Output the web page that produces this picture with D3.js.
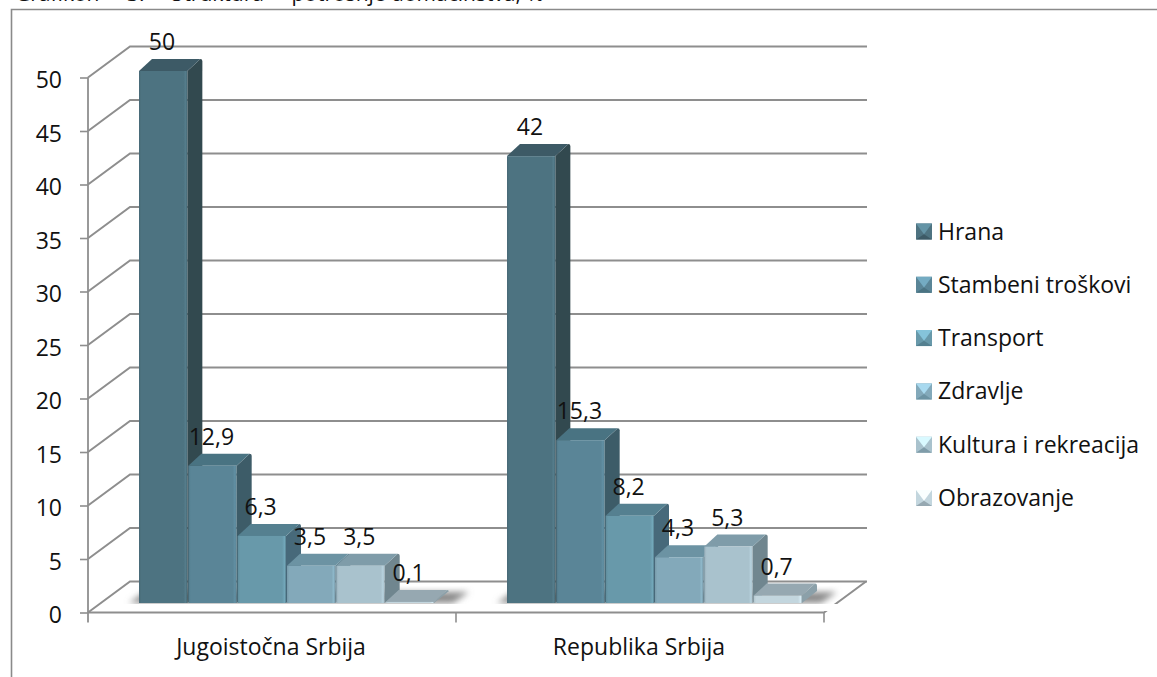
<!DOCTYPE html>
<html>
<head>
<meta charset="utf-8">
<title>Grafikon</title>
<script src="https://cdn.jsdelivr.net/npm/d3@7"></script>
<style>
html, body { margin: 0; padding: 0; background: #fff; overflow: hidden; }
svg { display: block; }
text { font-family: "Open Sans", "Noto Sans", sans-serif; fill: #111; }
</style>
</head>
<body>
<div id="chart"></div>
<script>
// Chart data
const categories = ["Jugoistočna Srbija", "Republika Srbija"];
const seriesNames = ["Hrana", "Stambeni troškovi", "Transport", "Zdravlje", "Kultura i rekreacija", "Obrazovanje"];
const jugoistocna = [50, 12.9, 6.3, 3.5, 3.5, 0.1];
const republika = [42, 15.3, 8.2, 4.3, 5.3, 0.7];
const yTicks = [0, 5, 10, 15, 20, 25, 30, 35, 40, 45, 50];
const titleStart = "Grafikon 3: Struktura ";
const titleEnd = "potrošnje domaćinstva, %";

// Colours per series: front, top, side
const frontColors = ["#4e7381", "#5a8597", "#6899aa", "#83a9ba", "#a9c2cd", "#c3d6de"];
const topColors = ["#3d5a66", "#4a7382", "#548090", "#6c93a3", "#7f9ca9", "#96a8b1"];
const sideColors = ["#33494f", "#3e5b67", "#47697a", "#5a7c8b", "#6f868f", "#8ba0a9"];

const width = 1157, height = 677;
const fontSize = "23px";
const [wallDx, wallDy] = [42, -31];   // side wall depth
const [barDx, barDy] = [15, -12];     // bar depth
const gridColor = "#8e8e8e";

const svg = d3.select("#chart").append("svg")
    .attr("width", width)
    .attr("height", height);

const defs = svg.append("defs");
defs.append("filter").attr("id", "soft")
    .append("feGaussianBlur").attr("stdDeviation", 0.45);
defs.append("filter").attr("id", "shadow")
    .attr("x", "-20%").attr("y", "-50%").attr("width", "140%").attr("height", "200%")
    .append("feGaussianBlur").attr("stdDeviation", 3);

// Bevelled front face: darker at the edges
frontColors.forEach((c, i) => {
    const g = defs.append("linearGradient").attr("id", `front${i}`);
    const base = d3.color(c);
    g.append("stop").attr("offset", "0%").attr("stop-color", base.darker(0.25));
    g.append("stop").attr("offset", "5%").attr("stop-color", base);
    g.append("stop").attr("offset", "92%").attr("stop-color", base);
    g.append("stop").attr("offset", "97%").attr("stop-color", base.brighter(0.25));
    g.append("stop").attr("offset", "100%").attr("stop-color", base.darker(0.5));
});

// Title, cut off by the top of the picture
const title = svg.append("text")
    .attr("x", 15)
    .attr("y", 0.5)
    .style("font-size", "21px");
title.append("tspan").style("word-spacing", "22px").text(titleStart);
title.append("tspan").text(titleEnd);

// Outer frame, open at the right and bottom
svg.append("path")
    .attr("d", `M11.5 ${height} V9.5 H${width}`)
    .attr("fill", "none")
    .attr("stroke", "#8a8a8a")
    .attr("stroke-width", 1.6);

// Scales
const yScale = d3.scaleLinear().domain([0, 50]).range([612.5, 77.5]);
const barScale = d3.scaleLinear().domain([0, 50]).range([603, 71]);
const xScale = d3.scaleBand().domain(categories).range([88, 824]);
const seriesScale = d3.scaleBand().domain(seriesNames).range([51, 346]).paddingInner(0.02);

// Walls and gridlines
const grid = svg.append("g").attr("filter", "url(#soft)")
    .attr("fill", "none")
    .attr("stroke", gridColor);

grid.selectAll("path.gridline")
    .data(yTicks)
    .enter()
    .append("path")
    .attr("class", "gridline")
    .attr("stroke-width", 2)
    .attr("d", d => `M88 ${yScale(d)} L${88 + wallDx} ${yScale(d) + wallDy} H${824 + wallDx + 1}`);

// Floor right edge and front edge
grid.append("path")
    .attr("stroke-width", 2)
    .attr("d", `M${824 + wallDx} ${yScale(0) + wallDy} L824 ${yScale(0)} H88`);

// Axes
const yAxis = d3.axisLeft(yScale)
    .tickValues(yTicks)
    .tickSize(8)
    .tickPadding(18);

const yAxisG = svg.append("g")
    .attr("transform", "translate(88,0)")
    .call(yAxis);
yAxisG.selectAll("text").style("font-size", fontSize).attr("dy", "10px");

const xAxis = d3.axisBottom(xScale).tickSize(0).tickPadding(26);
const xAxisG = svg.append("g")
    .attr("transform", `translate(0,${yScale(0)})`)
    .call(xAxis);
xAxisG.selectAll("text").style("font-size", fontSize).attr("dx", "-1");

svg.selectAll(".domain").remove();
svg.selectAll(".tick line").attr("stroke", gridColor).attr("stroke-width", 1.6);
svg.selectAll("text").attr("fill", "#111");

// Left axis line and ticks under the floor
svg.append("path")
    .attr("d", `M88 ${yScale(50)} V${yScale(0) + 10}`)
    .attr("stroke", gridColor)
    .attr("stroke-width", 1.8)
    .attr("fill", "none");

svg.selectAll("line.xtick")
    .data(categories)
    .enter()
    .append("line")
    .attr("class", "xtick")
    .attr("x1", d => xScale(d) + xScale.bandwidth())
    .attr("x2", d => xScale(d) + xScale.bandwidth())
    .attr("y1", yScale(0))
    .attr("y2", yScale(0) + 10)
    .attr("stroke", gridColor)
    .attr("stroke-width", 1.6);

// Bars
const groups = [jugoistocna, republika];
const w = seriesScale.bandwidth();

groups.forEach((values, g) => {
    const left = xScale(categories[g]);
    const layer = svg.append("g").attr("class", "group");
    const first = left + seriesScale(seriesNames[0]);
    const last = left + seriesScale(seriesNames[seriesNames.length - 1]) + w;
    const base = barScale(0);

    // Floor shadow at both ends of the group
    layer.append("path")
        .attr("d", `M${first - 10} ${base} L${first + 6} ${base - 11} H${last + barDx + 20} L${last + barDx + 4} ${base} Z`)
        .attr("fill", "#8a8a8a")
        .attr("filter", "url(#shadow)");
    layer.append("rect")
        .attr("x", first - 24)
        .attr("y", base + 1)
        .attr("width", last - first + 80)
        .attr("height", 7)
        .attr("fill", "#fff");

    const bars = layer.append("g").attr("filter", "url(#soft)");

    values.forEach((v, s) => {
        const x = left + seriesScale(seriesNames[s]);
        const y = barScale(v);
        const bar = bars.append("g").attr("class", "bar");

        // side face
        bar.append("path")
            .attr("d", `M${x + w} ${y} L${x + w + barDx - 2} ${y + barDy} Q${x + w + barDx} ${y + barDy} ${x + w + barDx} ${y + barDy + 2} V${base + barDy} L${x + w} ${base} Z`)
            .attr("fill", sideColors[s]);
        // top face
        bar.append("path")
            .attr("d", `M${x} ${y} L${x + barDx - 2} ${y + barDy} H${x + w + barDx - 2} L${x + w} ${y} Z`)
            .attr("fill", topColors[s]);
        // front face
        bar.append("rect")
            .attr("x", x)
            .attr("y", y)
            .attr("width", w)
            .attr("height", Math.max(base - y, 0))
            .attr("fill", `url(#front${s})`);
    });
});

// Data labels go last so they sit over the bars
groups.forEach((values, g) => {
    const left = xScale(categories[g]);
    svg.selectAll(`text.label${g}`)
        .data(values)
        .enter()
        .append("text")
        .attr("class", `label${g}`)
        .attr("x", (d, i) => left + seriesScale(seriesNames[i]) + 23)
        .attr("y", d => barScale(d) - 21)
        .attr("text-anchor", "middle")
        .style("font-size", fontSize)
        .text(d => String(d).replace(".", ","));
});

// Legend with pyramid-shaped keys
const legendY = d3.scalePoint().domain(seriesNames).range([231.5, 498]);
const keySize = 16;
const legend = svg.selectAll("g.legend")
    .data(seriesNames)
    .enter()
    .append("g")
    .attr("class", "legend")
    .attr("transform", d => `translate(916,${legendY(d)})`);

legend.append("rect")
    .attr("y", -keySize / 2)
    .attr("width", keySize)
    .attr("height", keySize)
    .attr("fill", (d, i) => frontColors[i]);
legend.append("path")
    .attr("d", `M0 ${-keySize / 2} H${keySize} L${keySize / 2} ${keySize / 6} Z`)
    .attr("fill", (d, i) => d3.color(frontColors[i]).brighter(0.7));
legend.append("path")
    .attr("d", `M0 ${keySize / 2} H${keySize} L${keySize / 2} ${keySize / 6} Z`)
    .attr("fill", (d, i) => topColors[i]);

legend.append("text")
    .attr("x", 22)
    .attr("dy", "0.35em")
    .style("font-size", fontSize)
    .text(d => d);
</script>
</body>
</html>
